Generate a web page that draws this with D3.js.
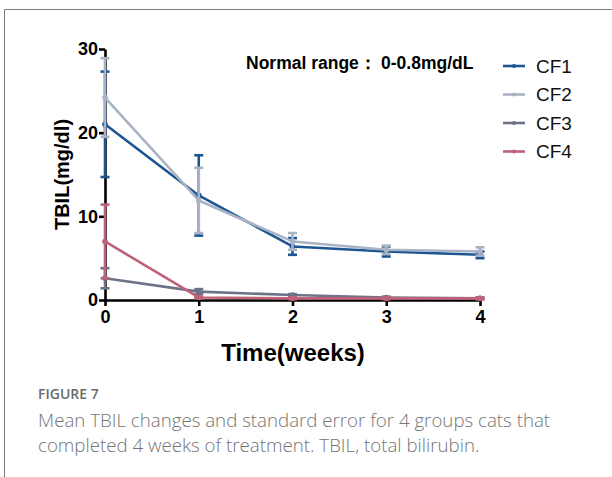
<!DOCTYPE html>
<html>
<head>
<meta charset="utf-8">
<script src="https://cdn.jsdelivr.net/npm/d3@7"></script>
<style>
  html, body { margin: 0; padding: 0; background: #fff; }
  svg { display: block; }
</style>
</head>
<body>
<svg id="chart" width="612" height="477"></svg>
<script>
// Weekly time points and tick labels
const weeks = [0, 1, 2, 3, 4];
const yTicks = [0, 10, 20, 30];

// Group names and colours
const groups = ["CF1", "CF2", "CF3", "CF4"];
const colors = ["#1d5592", "#a9b3c5", "#6c7386", "#bf6279"];

// Mean TBIL (mg/dl) per week
const meanCF1 = [21.0, 12.5, 6.4, 5.8, 5.4];
const meanCF2 = [24.2, 11.9, 7.0, 6.0, 5.8];
const meanCF3 = [2.6, 1.0, 0.6, 0.3, 0.2];
const meanCF4 = [7.0, 0.3, 0.2, 0.2, 0.2];

// Standard error per week
const seCF1 = [6.3, 4.8, 1.0, 0.6, 0.4];
const seCF2 = [4.7, 3.9, 1.0, 0.5, 0.5];
const seCF3 = [1.2, 0.3, 0.1, 0.1, 0.1];
const seCF4 = [4.4, 0.1, 0.1, 0.1, 0.1];

const means = [meanCF1, meanCF2, meanCF3, meanCF4];
const errors = [seCF1, seCF2, seCF3, seCF4];

const series = groups.map((g, i) => ({
  name: g,
  color: colors[i],
  points: weeks.map((w, j) => ({ week: w, mean: means[i][j], se: errors[i][j] }))
}));

const svg = d3.select("#chart");
const boldFont = "'Liberation Sans', Arial, Helvetica, sans-serif";

// Page frame (top and left rules)
svg.append("line").attr("x1", 4.5).attr("x2", 612).attr("y1", 9.5).attr("y2", 9.5)
  .attr("stroke", "#7a7a7a").attr("stroke-width", 1);
svg.append("line").attr("x1", 4.5).attr("x2", 4.5).attr("y1", 9.5).attr("y2", 477)
  .attr("stroke", "#7a7a7a").attr("stroke-width", 1);

const x = d3.scaleLinear().domain([0, 4]).range([105, 480]);
const y = d3.scaleLinear().domain([0, 30]).range([300, 49]);

// Axes
const xAxis = svg.append("g").attr("transform", `translate(0,${y(0)})`)
  .call(d3.axisBottom(x).tickValues(weeks).tickFormat(d3.format("d")).tickSize(6).tickSizeOuter(0));
const yAxis = svg.append("g").attr("transform", `translate(${x(0)},0)`)
  .call(d3.axisLeft(y).tickValues(yTicks).tickSize(6).tickSizeOuter(0));

[xAxis, yAxis].forEach(a => {
  a.select(".domain").attr("stroke", "#000").attr("stroke-width", 2.6);
  a.selectAll(".tick line").attr("stroke", "#000").attr("stroke-width", 2.6);
  a.selectAll(".tick text").attr("fill", "#000")
    .style("font-family", boldFont).style("font-weight", "bold").style("font-size", "18px");
});
xAxis.selectAll(".tick text").attr("dy", "0.9em").attr("y", 7);
yAxis.selectAll(".tick text").attr("x", -7);

// Axis titles
svg.append("text")
  .attr("x", 293).attr("y", 361)
  .attr("text-anchor", "middle")
  .style("font-family", boldFont).style("font-weight", "bold").style("font-size", "24px")
  .text("Time(weeks)");

svg.append("text")
  .attr("transform", `translate(69,${y(15)}) rotate(-90)`)
  .attr("text-anchor", "middle")
  .style("font-family", boldFont).style("font-weight", "bold").style("font-size", "20px")
  .text("TBIL(mg/dl)");

// Series: lines, error bars, markers
const line = d3.line().x(d => x(d.week)).y(d => y(d.mean));
const capHalf = 4.5;

series.forEach(s => {
  const g = svg.append("g");
  const bars = g.selectAll(".err").data(s.points).enter().append("g");
  bars.append("line")
    .attr("x1", d => x(d.week)).attr("x2", d => x(d.week))
    .attr("y1", d => y(d.mean + d.se)).attr("y2", d => y(Math.max(0, d.mean - d.se)))
    .attr("stroke", s.color).attr("stroke-width", 2.6);
  bars.append("line")
    .attr("x1", d => x(d.week) - capHalf).attr("x2", d => x(d.week) + capHalf)
    .attr("y1", d => y(d.mean + d.se)).attr("y2", d => y(d.mean + d.se))
    .attr("stroke", s.color).attr("stroke-width", 2.6);
  bars.append("line")
    .attr("x1", d => x(d.week) - capHalf).attr("x2", d => x(d.week) + capHalf)
    .attr("y1", d => y(Math.max(0, d.mean - d.se))).attr("y2", d => y(Math.max(0, d.mean - d.se)))
    .attr("stroke", s.color).attr("stroke-width", 2.6);

  g.append("path").datum(s.points)
    .attr("d", line).attr("fill", "none")
    .attr("stroke", s.color).attr("stroke-width", 2.6).attr("stroke-linejoin", "round");

  g.selectAll("circle").data(s.points).enter().append("circle")
    .attr("cx", d => x(d.week)).attr("cy", d => y(d.mean)).attr("r", 2.8)
    .attr("fill", s.color);
});

// Annotation: normal reference range
const note = svg.append("text")
  .attr("x", 246).attr("y", 69)
  .style("font-family", boldFont).style("font-weight", "bold").style("font-size", "17.5px");
note.append("tspan").text("Normal range：");
note.append("tspan").attr("x", 381).text("0-0.8mg/dL");

// Legend
const legend = svg.append("g").attr("transform", "translate(503,66)");
const items = legend.selectAll("g").data(series).enter().append("g")
  .attr("transform", (d, i) => `translate(0,${i * 28.5})`);
items.append("line").attr("x1", 0).attr("x2", 22).attr("y1", 0).attr("y2", 0)
  .attr("stroke", d => d.color).attr("stroke-width", 2.6);
items.append("circle").attr("cx", 11).attr("cy", 0).attr("r", 2).attr("fill", d => d.color);
items.append("text").attr("x", 33).attr("y", 0).attr("dy", "0.36em")
  .style("font-family", boldFont).style("font-size", "19px").attr("fill", "#111")
  .text(d => d.name);

// Caption
const capFont = "'Open Sans', 'Noto Sans', sans-serif";
svg.append("text").attr("x", 38).attr("y", 399)
  .style("font-family", capFont).style("font-size", "14px").style("font-weight", "600")
  .attr("fill", "#6b6b6b").text("FIGURE 7");
const captionLines = [
  "Mean TBIL changes and standard error for 4 groups cats that",
  "completed 4 weeks of treatment. TBIL, total bilirubin."
];
svg.selectAll(".cap").data(captionLines).enter().append("text")
  .attr("x", 38).attr("y", (d, i) => 427 + i * 25)
  .style("font-family", capFont).style("font-size", "18.7px").style("font-weight", "300")
  .attr("fill", "#757575").text(d => d);
</script>
</body>
</html>
